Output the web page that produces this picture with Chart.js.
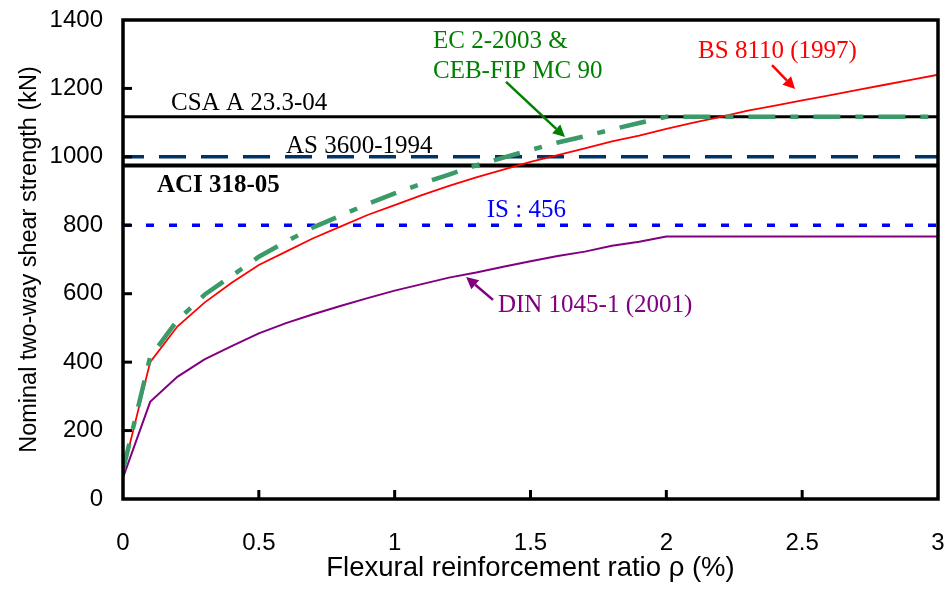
<!DOCTYPE html>
<html>
<head>
<meta charset="utf-8">
<script src="https://cdn.jsdelivr.net/npm/chart.js@4.4.1/dist/chart.umd.min.js"></script>
<style>
html,body{margin:0;padding:0;background:#fff;}
#wrap{width:949px;height:607px;position:relative;}
</style>
</head>
<body>
<div id="wrap"><canvas id="c" width="949" height="607"></canvas></div>
<script>
// ---- data ----
const rho = [0,0.1,0.2,0.3,0.4,0.5,0.6,0.7,0.8,0.9,1.0,1.1,1.2,1.3,1.4,1.5,1.6,1.7,1.8,1.9,2.0,2.1,2.2,2.3,2.4,2.5,2.6,2.7,2.8,2.9,3.0];
const bs8110 = [80,400,504,574,632,684,723,762,796,830,859,888,915,940,963,985,1005,1025,1045,1062,1082,1100,1117,1135,1150,1165,1180,1195,1210,1225,1240];
const ec2 = [85,415,522,597,652,708,752,794,828,862,893,922,948,975,998,1020,1042,1060,1080,1099,1117,1117,1117,1117,1117,1117,1117,1117,1117,1117,1117];
const din1045 = [62,284,357,408,447,484,514,540,564,587,609,628,647,662,679,695,710,723,740,752,767,767,767,767,767,767,767,767,767,767,767];
const lineX = [0, 3];
const csaValue = 1117;
const asValue = 1000;
const aciValue = 975;
const isValue = 800;
const xTicks = [0,0.5,1,1.5,2,2.5,3];
const yTicks = [0,200,400,600,800,1000,1200,1400];

function pts(xs, ys){ return xs.map((x,i)=>({x:x,y:ys[i]})); }
function flat(v){ return lineX.map(x=>({x:x,y:v})); }

const annotations = [
  {text:'CSA A 23.3-04', x:0.177, y:1137, color:'#000', bold:false},
  {text:'AS 3600-1994', x:0.600, y:1011, color:'#000', bold:false},
  {text:'ACI 318-05', x:0.125, y:897, color:'#000', bold:true},
  {text:'IS : 456', x:1.339, y:825, color:'#0000FF', bold:false},
  {text:'EC 2-2003 &', x:1.141, y:1319, color:'#008000', bold:false},
  {text:'CEB-FIP MC 90', x:1.141, y:1231, color:'#008000', bold:false},
  {text:'BS 8110 (1997)', x:2.117, y:1288, color:'#FF0000', bold:false},
  {text:'DIN 1045-1 (2001)', x:1.380, y:547, color:'#800080', bold:false}
];
const arrows = [
  {x0:1.410, y0:1219, x1:1.627, y1:1058, color:'#008000'},
  {x0:2.389, y0:1268, x1:2.474, y1:1198, color:'#FF0000'},
  {x0:1.362, y0:582, x1:1.263, y1:649, color:'#800080'}
];

const decor = {
  id:'decor',
  afterDraw(chart){
    const ctx = chart.ctx, xs = chart.scales.x, ys = chart.scales.y, a = chart.chartArea;
    ctx.save();
    // inner tick marks
    ctx.strokeStyle = '#000'; ctx.lineWidth = 3;
    xTicks.forEach(v=>{
      if (v===0 || v===3) return;
      const px = xs.getPixelForValue(v);
      ctx.beginPath(); ctx.moveTo(px, a.bottom); ctx.lineTo(px, a.bottom-9); ctx.stroke();
    });
    yTicks.forEach(v=>{
      if (v===0 || v===1400) return;
      const py = ys.getPixelForValue(v);
      ctx.beginPath(); ctx.moveTo(a.left, py); ctx.lineTo(a.left+9, py); ctx.stroke();
    });
    // frame
    ctx.lineWidth = 3.5;
    ctx.strokeRect(a.left, a.top, a.right-a.left, a.bottom-a.top);
    // annotations
    annotations.forEach(t=>{
      ctx.font = (t.bold?'bold ':'') + '25px "Liberation Serif", "Times New Roman", serif';
      ctx.fillStyle = t.color;
      ctx.textBaseline = 'alphabetic';
      ctx.textAlign = 'left';
      ctx.fillText(t.text, xs.getPixelForValue(t.x), ys.getPixelForValue(t.y));
    });
    arrows.forEach(r=>{
      const x0 = xs.getPixelForValue(r.x0), y0 = ys.getPixelForValue(r.y0);
      const x1 = xs.getPixelForValue(r.x1), y1 = ys.getPixelForValue(r.y1);
      const ang = Math.atan2(y1-y0, x1-x0);
      const hl = 12, hw = 6;
      const bx = x1 - hl*Math.cos(ang), by = y1 - hl*Math.sin(ang);
      ctx.strokeStyle = r.color; ctx.fillStyle = r.color; ctx.lineWidth = 2.5;
      ctx.beginPath(); ctx.moveTo(x0,y0); ctx.lineTo(bx,by); ctx.stroke();
      ctx.beginPath();
      ctx.moveTo(x1,y1);
      ctx.lineTo(bx + hw*Math.sin(ang), by - hw*Math.cos(ang));
      ctx.lineTo(bx - hw*Math.sin(ang), by + hw*Math.cos(ang));
      ctx.closePath(); ctx.fill();
    });
    ctx.restore();
  }
};

function zeroPad(s){ s.paddingTop = 0; s.paddingBottom = 0; s.paddingLeft = 0; s.paddingRight = 0; }

new Chart(document.getElementById('c'), {
  type:'line',
  data:{
    datasets:[
      {label:'EC 2-2003 & CEB-FIP MC 90', data:pts(rho, ec2), borderColor:'#3A9A68', borderWidth:4.5, borderDash:[27,15,8,15], order:1},
      {label:'BS 8110 (1997)', data:pts(rho, bs8110), borderColor:'#FF0000', borderWidth:1.8, order:2},
      {label:'DIN 1045-1 (2001)', data:pts(rho, din1045), borderColor:'#800080', borderWidth:2, order:3},
      {label:'CSA A 23.3-04', data:flat(csaValue), borderColor:'#000000', borderWidth:3, order:6},
      {label:'AS 3600-1994', data:flat(asValue), borderColor:'#003366', borderWidth:3.5, borderDash:[27,15], borderDashOffset:6, order:5},
      {label:'ACI 318-05', data:flat(aciValue), borderColor:'#000000', borderWidth:4, order:7},
      {label:'IS : 456', data:flat(isValue), borderColor:'#0000FF', borderWidth:3.5, borderDash:[8,15], order:4}
    ]
  },
  options:{
    responsive:false,
    animation:false,
    layout:{autoPadding:false, padding:{top:20, right:11, left:0, bottom:0}},
    elements:{point:{radius:0}, line:{tension:0, fill:false}},
    plugins:{legend:{display:false}, tooltip:{enabled:false}},
    scales:{
      x:{
        type:'linear', min:0, max:3,
        grid:{display:false, drawTicks:false},
        border:{display:false},
        afterBuildTicks(s){ s.ticks = xTicks.map(v=>({value:v})); },
        afterFit(s){ s.height = 108; zeroPad(s); },
        ticks:{padding:30, color:'#000', font:{family:'"Liberation Sans", Arial, sans-serif', size:24}, maxRotation:0,
          callback:(v)=>String(v)},
        title:{display:true, text:'Flexural reinforcement ratio ρ (%)', color:'#000',
          font:{family:'"Liberation Sans", Arial, sans-serif', size:27.5}, padding:{bottom:22, top:0}}
      },
      y:{
        type:'linear', min:0, max:1400,
        grid:{display:false, drawTicks:false},
        border:{display:false},
        afterBuildTicks(s){ s.ticks = yTicks.map(v=>({value:v})); },
        afterFit(s){ s.width = 123; zeroPad(s); },
        ticks:{padding:20, color:'#000', font:{family:'"Liberation Sans", Arial, sans-serif', size:24},
          callback:(v)=>String(v)},
        title:{display:true, text:'Nominal two-way shear strength (kN)', color:'#000',
          font:{family:'"Liberation Sans", Arial, sans-serif', size:23.5}, padding:{top:15, bottom:0}}
      }
    }
  },
  plugins:[decor]
});
</script>
</body>
</html>
